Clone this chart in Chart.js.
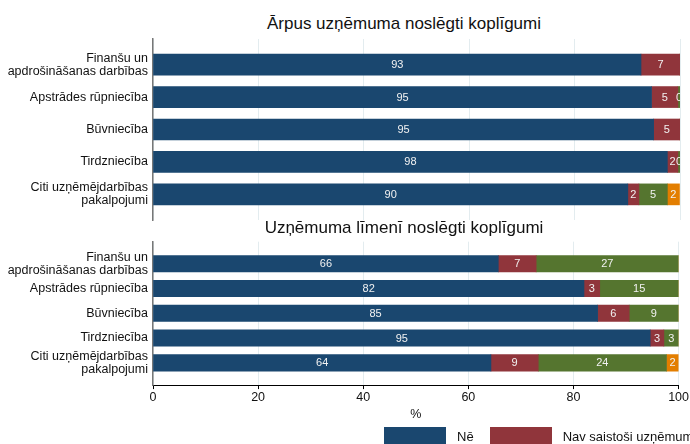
<!DOCTYPE html>
<html>
<head>
<meta charset="utf-8">
<script src="https://cdn.jsdelivr.net/npm/chart.js@4.4.0/dist/chart.umd.min.js"></script>
<style>
    body { margin: 0; background: #fff; font-family: "Liberation Sans", Arial, sans-serif; }
    #wrap { position: relative; width: 690px; height: 444px; overflow: hidden; }
    .panel-title { position: absolute; left: 0; width: 808px; text-align: center; font-size: 17px; color: #111; line-height: 20px; }
    #topCanvas { position: absolute; left: 0; top: 0; }
    #bottomCanvas { position: absolute; left: 0; top: 215px; }
    #legend { position: absolute; left: 384px; top: 427px; white-space: nowrap; font-size: 13px; color: #111; line-height: 20px; }
    .item { display: inline-block; margin-right: 16px; }
    .swatch { display: inline-block; width: 62px; height: 20px; vertical-align: top; margin-right: 11px; }
</style>
</head>
<body>
<div id="wrap">
    <div class="panel-title" style="top: 14px;">Ārpus uzņēmuma noslēgti koplīgumi</div>
    <canvas id="topCanvas" width="690" height="222"></canvas>
    <div class="panel-title" style="top: 218px;">Uzņēmuma līmenī noslēgti koplīgumi</div>
    <canvas id="bottomCanvas" width="690" height="229"></canvas>
    <div id="legend"></div>
</div>
<script>
// Categories (top to bottom)
const categories = [
    ['Finanšu un', 'apdrošināšanas darbības'],
    'Apstrādes rūpniecība',
    'Būvniecība',
    'Tirdzniecība',
    ['Citi uzņēmējdarbības', 'pakalpojumi']
];

const seriesNames = ['Nē', 'Nav saistoši uzņēmumam', 'Jā', 'Grūti pateikt'];
const seriesColors = ['#1a476f', '#90353b', '#55752f', '#e37e00'];

// Ārpus uzņēmuma noslēgti koplīgumi (%)
const outsideNe = [92.6, 94.6, 95.0, 97.6, 90.1];
const outsideNav = [7.4, 5.0, 5.0, 2.0, 2.1];
const outsideJa = [0, 0.4, 0, 0.4, 5.4];
const outsideGrutiPateikt = [0, 0, 0, 0, 2.3];

// Uzņēmuma līmenī noslēgti koplīgumi (%)
const insideNe = [65.7, 82.0, 84.6, 94.6, 64.3];
const insideNav = [7.2, 3.0, 6.0, 2.6, 9.0];
const insideJa = [27.1, 15.0, 9.4, 2.8, 24.4];
const insideGrutiPateikt = [0, 0, 0, 0, 2.3];

const xTicks = [0, 20, 40, 60, 80, 100];

const FONT = '"Liberation Sans", Arial, sans-serif';

// Draws the rounded value in the middle of each segment
const valueLabels = {
    id: 'valueLabels',
    afterDatasetsDraw(chart) {
        const ctx = chart.ctx;
        const area = chart.chartArea;
        ctx.save();
        ctx.beginPath();
        ctx.rect(area.left, area.top, area.right - area.left, area.bottom - area.top);
        ctx.clip();
        ctx.font = '11px ' + FONT;
        ctx.fillStyle = '#f2f2f2';
        ctx.textAlign = 'center';
        ctx.textBaseline = 'middle';
        chart.data.datasets.forEach((ds, di) => {
            const meta = chart.getDatasetMeta(di);
            meta.data.forEach((bar, i) => {
                const v = ds.data[i].x;
                if (!v) return;
                ctx.fillText(String(Math.round(v)), (bar.x + bar.base) / 2, bar.y + 0.5);
            });
        });
        ctx.restore();
    }
};

function buildDatasets(series, thickness) {
    return series.map((vals, s) => ({
        label: seriesNames[s],
        data: vals.map((v, i) => ({ x: v, y: i })),
        backgroundColor: seriesColors[s],
        borderWidth: 0,
        barThickness: thickness
    }));
}

function makeChart(canvasId, series, cfg) {
    const ctx = document.getElementById(canvasId).getContext('2d');
    return new Chart(ctx, {
        type: 'bar',
        data: { datasets: buildDatasets(series, cfg.thickness) },
        options: {
            indexAxis: 'y',
            responsive: false,
            animation: false,
            layout: { padding: cfg.padding },
            plugins: {
                legend: { display: false },
                tooltip: { enabled: false }
            },
            scales: {
                x: {
                    type: 'linear',
                    min: 0,
                    max: 100,
                    stacked: true,
                    afterBuildTicks: scale => { scale.ticks = xTicks.map(v => ({ value: v })); },
                    grid: {
                        color: '#e3ecef',
                        drawTicks: cfg.showX,
                        tickLength: 4,
                        tickColor: '#000'
                    },
                    border: { display: cfg.showX, color: '#000', width: 1 },
                    ticks: {
                        display: cfg.showX,
                        padding: 1,
                        color: '#111',
                        font: { family: FONT, size: 12.5 }
                    },
                    title: {
                        display: cfg.showX,
                        text: '%',
                        color: '#111',
                        padding: { top: 1, bottom: 0 },
                        font: { family: FONT, size: 12.5 }
                    },
                    afterFit: scale => { if (!cfg.showX) scale.height = 0; }
                },
                y: {
                    type: 'linear',
                    min: cfg.yMin,
                    max: cfg.yMax,
                    bounds: 'data',
                    offset: false,
                    reverse: true,
                    stacked: true,
                    afterBuildTicks: scale => { scale.ticks = categories.map((c, i) => ({ value: i })); },
                    grid: { display: false, drawTicks: false, offset: false },
                    border: { display: true, color: '#777', width: 1.5 },
                    ticks: {
                        padding: 5,
                        color: '#111',
                        font: { family: FONT, size: 12.5, lineHeight: 1.05 },
                        callback: v => categories[v]
                    },
                    afterFit: scale => {
                        scale.width = 153;
                        scale.paddingTop = 0;
                        scale.paddingBottom = 0;
                    }
                }
            }
        },
        plugins: [valueLabels]
    });
}

makeChart('topCanvas', [outsideNe, outsideNav, outsideJa, outsideGrutiPateikt], {
    thickness: 21,
    padding: { top: 39, right: 10, bottom: 2, left: 0 },
    yMin: -0.79,
    yMax: 4.79,
    showX: false
});

makeChart('bottomCanvas', [insideNe, insideNav, insideJa, insideGrutiPateikt], {
    thickness: 16.5,
    padding: { top: 26.7, right: 10, bottom: 21.9, left: 0 },
    yMin: -0.89,
    yMax: 4.9,
    showX: true
});

// Legend (runs off the right edge like the original)
const legend = document.getElementById('legend');
seriesNames.forEach((name, i) => {
    const item = document.createElement('span');
    item.className = 'item';
    item.innerHTML = `<span class="swatch" style="background:${seriesColors[i]}"></span>${name}`;
    legend.appendChild(item);
});
</script>
</body>
</html>
